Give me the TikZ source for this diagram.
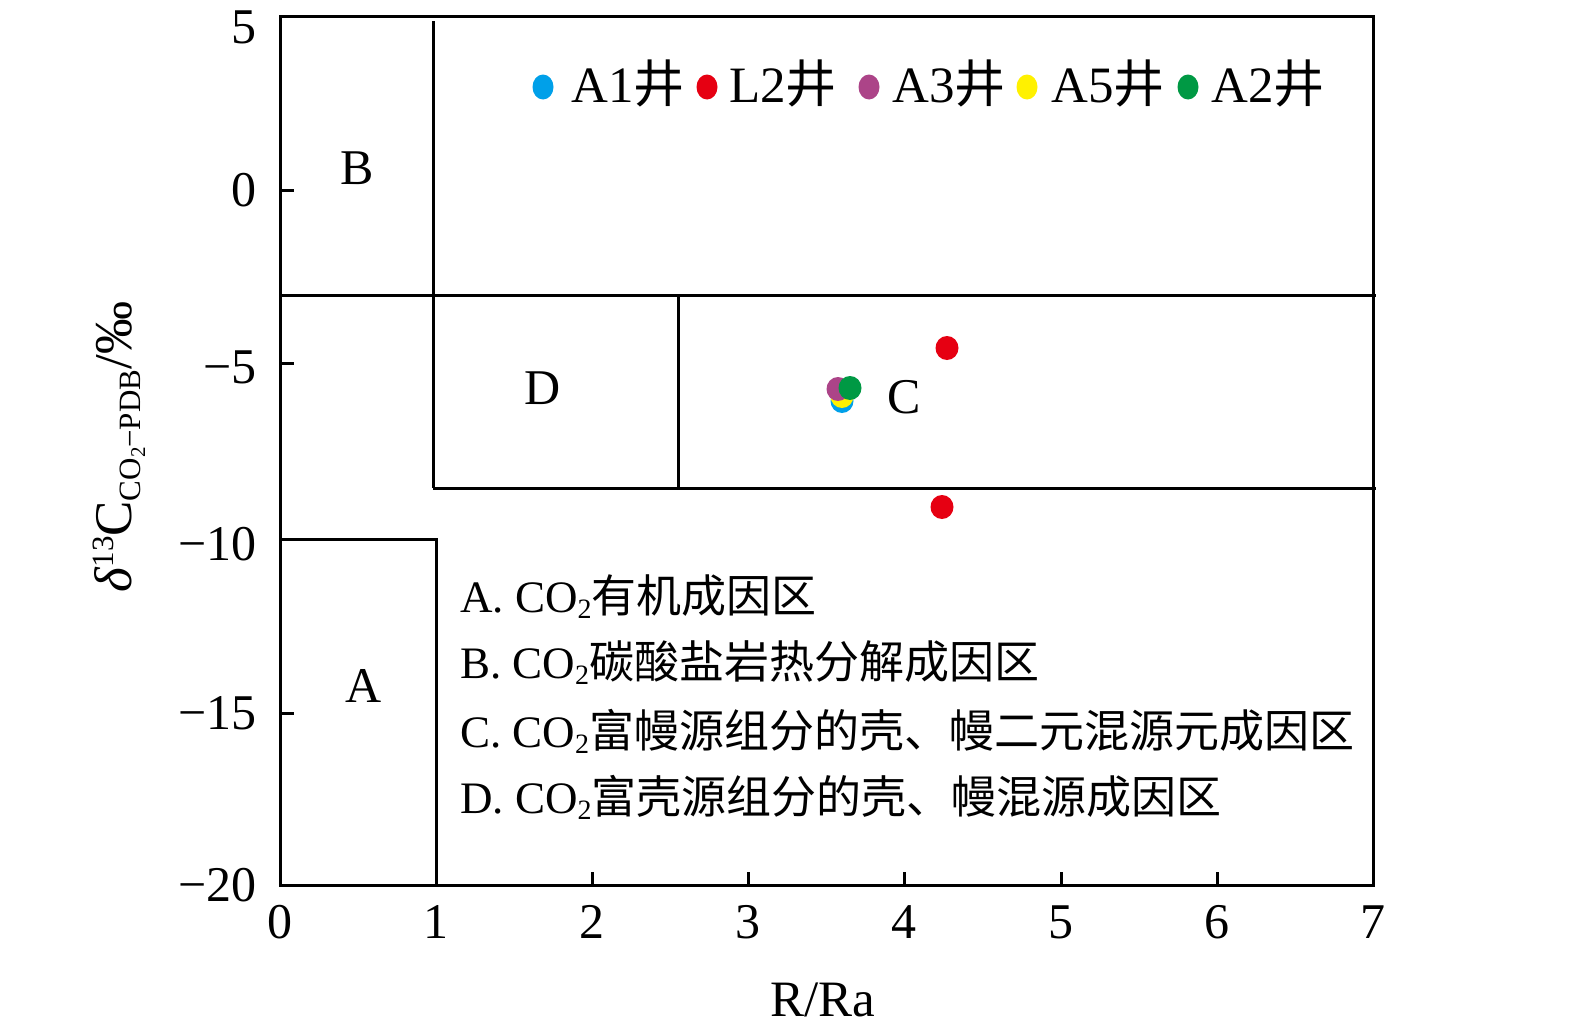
\documentclass[tikz,border=0pt]{standalone}
\usepackage{fontspec}
\usetikzlibrary{shapes.geometric}
\setmainfont{Liberation Serif}
\newfontfamily\cjk{Noto Sans CJK SC}
\definecolor{cblue}{RGB}{0,160,233}
\definecolor{cred}{RGB}{230,0,18}
\definecolor{cpurple}{RGB}{172,68,136}
\definecolor{cyellow}{RGB}{255,241,0}
\definecolor{cgreen}{RGB}{0,153,68}
\newcommand{\cotwo}{CO\raisebox{-6pt}{\fontsize{28}{30}\selectfont 2}}
\begin{document}
\begin{tikzpicture}[x=1pt,y=-1pt,
  frameline/.style={line width=3pt,black},
  ticklab/.style={inner sep=0pt,font=\fontsize{50}{60}\selectfont},
  regionlab/.style={inner sep=0pt,font=\fontsize{50}{60}\selectfont},
  legtext/.style={inner sep=0pt,anchor=base west,font=\fontsize{51}{60}\selectfont},
  keytext/.style={inner sep=0pt,anchor=base west,font=\fontsize{45}{54}\selectfont},
  dot/.style={draw=none,fill=#1,ellipse,minimum width=23pt,minimum height=24pt,inner sep=0pt},
  legdot/.style={draw=none,fill=#1,ellipse,minimum width=21pt,minimum height=25pt,inner sep=0pt}]
\useasboundingbox[fill=white] (0,0) rectangle (1575,1036);
% frame
\draw[frameline] (280,16) rectangle (1373,885);
% zone boundaries
\draw[frameline] (433,21) -- (433,488);
\draw[frameline] (280,295) -- (1376,295);
\draw[frameline] (433,488) -- (1376,488);
\draw[frameline] (678,295) -- (678,488);
\draw[frameline] (280,539) -- (436,539) -- (436,885);
% ticks
\foreach \yy in {190,363,713} \draw[frameline] (280,\yy) -- ++(14,0);
\foreach \xx in {592,748,904,1061,1217} \draw[frameline] (\xx,885) -- ++(0,-13);
% y tick labels
\node[ticklab,anchor=east] (y5) at (257,27) {5};
\node[ticklab,anchor=east] (y0) at (257,190) {0};
\node[ticklab,anchor=east] (ym5) at (257,367) {−5};
\node[ticklab,anchor=east] (ym10) at (257,544) {−10};
\node[ticklab,anchor=east] (ym15) at (257,713) {−15};
\node[ticklab,anchor=east] (ym20) at (257,885) {−20};
% x tick labels
\foreach \v/\xx in {0/280,1/436,2/592,3/748,4/904,5/1061,6/1217,7/1373}
  \node[ticklab] (x\v) at (\xx,922) {\v};
% axis titles
\node[inner sep=0pt,anchor=base,font=\fontsize{51}{60}\selectfont] (xtitle) at (823,1016) {R/Ra};
\node[inner sep=0pt,anchor=base,rotate=90,font=\fontsize{53}{62}\selectfont] (ytitle) at (131,447)
  {{\itshape δ}\raisebox{18pt}{\fontsize{31}{34}\selectfont 13}C\raisebox{-9pt}{\fontsize{31}{34}\selectfont CO\raisebox{-5pt}{\fontsize{21}{24}\selectfont 2}−PDB}/‰};
% region labels
\node[regionlab] (labB) at (357,168) {B};
\node[regionlab] (labD) at (543,388) {D};
\node[regionlab] (labC) at (904,397) {C};
\node[regionlab] (labA) at (364,686) {A};
% data points
\node[dot=cred] (p1) at (947,348) {};
\node[dot=cred] (p2) at (942,507) {};
\node[dot=cblue] (p3) at (842,401) {};
\node[dot=cyellow] (p4) at (842,396) {};
\node[dot=cpurple] (p5) at (838,389) {};
\node[dot=cgreen] (p6) at (850,388) {};
% top legend
\node[legdot=cblue] (l1) at (543,87) {};
\node[legtext] (t1) at (571,102) {A1{\cjk 井}};
\node[legdot=cred] (l2) at (707,87) {};
\node[legtext] (t2) at (729,102) {L2{\cjk 井}};
\node[legdot=cpurple] (l3) at (869,87) {};
\node[legtext] (t3) at (892,102) {A3{\cjk 井}};
\node[legdot=cyellow] (l4) at (1027,87) {};
\node[legtext] (t4) at (1051,102) {A5{\cjk 井}};
\node[legdot=cgreen] (l5) at (1188,87) {};
\node[legtext] (t5) at (1211,102) {A2{\cjk 井}};
% zone key
\node[keytext] (kA) at (460,612) {A. \cotwo{\cjk 有机成因区}};
\node[keytext] (kB) at (460,678) {B. \cotwo{\cjk 碳酸盐岩热分解成因区}};
\node[keytext] (kC) at (460,747) {C. \cotwo{\cjk 富幔源组分的壳、幔二元混源元成因区}};
\node[keytext] (kD) at (460,813) {D. \cotwo{\cjk 富壳源组分的壳、幔混源成因区}};
\end{tikzpicture}
\end{document}
